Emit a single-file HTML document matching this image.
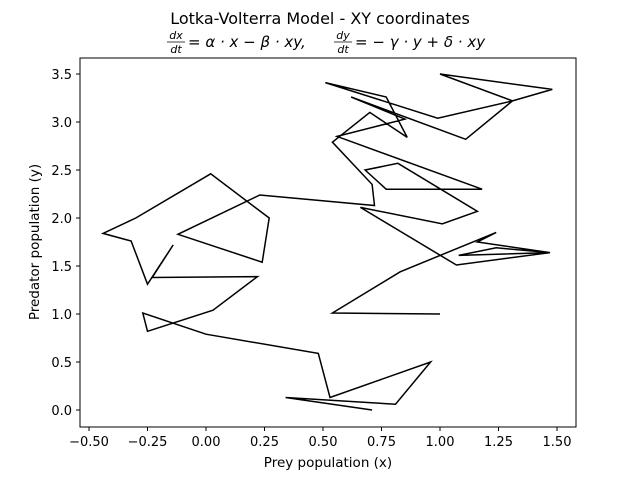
<!DOCTYPE html>
<html><head><meta charset="utf-8"><style>body{margin:0;background:#fff}svg{display:block;font-family:"DejaVu Sans","Liberation Sans",sans-serif}</style></head>
<body>
<svg id="chart" width="640" height="480" viewBox="0 0 640 480">
<text x="320" y="24" text-anchor="middle" font-size="16">Lotka-Volterra Model - XY coordinates</text>
<g font-family="DejaVu Sans, sans-serif" font-size="15">
<text x="176" y="39" text-anchor="middle" font-size="11" font-style="italic">dx</text>
<line x1="167" x2="185" y1="42" y2="42" stroke="#000" stroke-width="0.8"/>
<text x="176" y="53" text-anchor="middle" font-size="11" font-style="italic">dt</text>
<text x="188" y="47" font-style="italic">= α · x − β · xy,</text>
<text x="343" y="39" text-anchor="middle" font-size="11" font-style="italic">dy</text>
<line x1="334" x2="352" y1="42" y2="42" stroke="#000" stroke-width="0.8"/>
<text x="343" y="53" text-anchor="middle" font-size="11" font-style="italic">dt</text>
<text x="355" y="47" font-style="italic">= − γ · y + δ · xy</text>
</g>
<rect x="80" y="58" width="496" height="369" fill="none" stroke="#000" stroke-width="1"/>
<g id="xticks"></g><g id="yticks"></g>
<polyline id="path" fill="none" stroke="#000" stroke-width="1.5" stroke-linejoin="miter"/>
<text x="328" y="467" text-anchor="middle" font-size="13.5">Prey population (x)</text>
<text transform="translate(39,242) rotate(-90)" text-anchor="middle" font-size="13.5">Predator population (y)</text>
</svg>
<script>
const xValues=[1.00,0.54,0.83,1.24,1.16,1.47,1.08,1.24,1.47,1.07,0.66,1.01,1.16,0.82,0.68,0.77,1.18,0.56,0.85,0.62,1.11,1.31,1.00,1.48,1.31,0.99,0.51,0.77,0.86,0.70,0.54,0.71,0.72,0.23,-0.12,0.24,0.27,0.02,-0.30,-0.44,-0.32,-0.25,-0.14,-0.23,0.22,0.03,-0.25,-0.27,0.00,0.48,0.53,0.96,0.81,0.34,0.71];
const yValues=[1.00,1.01,1.44,1.85,1.75,1.64,1.61,1.69,1.64,1.51,2.11,1.94,2.07,2.57,2.50,2.30,2.30,2.85,3.03,3.26,2.82,3.22,3.50,3.34,3.22,3.04,3.41,3.26,2.84,3.10,2.79,2.35,2.13,2.24,1.83,1.54,2.00,2.46,2.00,1.84,1.76,1.31,1.72,1.38,1.39,1.04,0.82,1.01,0.79,0.59,0.13,0.50,0.06,0.13,0.00];
const xTicks=[-0.5,-0.25,0,0.25,0.5,0.75,1.0,1.25,1.5];
const xTickLabels=["−0.50","−0.25","0.00","0.25","0.50","0.75","1.00","1.25","1.50"];
const yTicks=[0,0.5,1,1.5,2,2.5,3,3.5];
const yTickLabels=["0.0","0.5","1.0","1.5","2.0","2.5","3.0","3.5"];
const sx=v=>206+v*234, sy=v=>410-v*96;
const NS="http://www.w3.org/2000/svg";
document.getElementById('path').setAttribute('points',xValues.map((x,i)=>sx(x).toFixed(1)+','+sy(yValues[i]).toFixed(1)).join(' '));
const gx=document.getElementById('xticks');
xTicks.forEach((t,i)=>{const l=document.createElementNS(NS,'line');


l.setAttribute('x1',sx(t));l.setAttribute('x2',sx(t));l.setAttribute('y1',427);l.setAttribute('y2',431);l.setAttribute('stroke','#000');gx.appendChild(l);
const tx=document.createElementNS(NS,'text');


tx.setAttribute('x',sx(t));tx.setAttribute('y',446);tx.setAttribute('text-anchor','middle');tx.setAttribute('font-size','13');tx.textContent=xTickLabels[i];gx.appendChild(tx);});
const gy=document.getElementById('yticks');
yTicks.forEach((t,i)=>{const l=document.createElementNS(NS,'line');


l.setAttribute('x1',76);l.setAttribute('x2',80);l.setAttribute('y1',sy(t));l.setAttribute('y2',sy(t));l.setAttribute('stroke','#000');gy.appendChild(l);
const tx=document.createElementNS(NS,'text');


tx.setAttribute('x',72);tx.setAttribute('y',sy(t)+5);tx.setAttribute('text-anchor','end');tx.setAttribute('font-size','13');tx.textContent=yTickLabels[i];gy.appendChild(tx);});
</script>
</body></html>
